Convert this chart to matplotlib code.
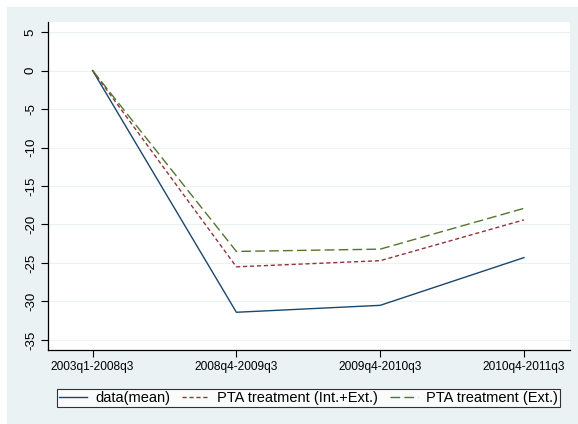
import matplotlib
matplotlib.use("Agg")
import matplotlib.pyplot as plt
from matplotlib.patches import Rectangle

periods = ["2003q1-2008q3", "2008q4-2009q3", "2009q4-2010q3", "2010q4-2011q3"]
data_mean = [0, -31.4, -30.5, -24.3]
pta_int_ext = [0, -25.5, -24.7, -19.4]
pta_ext = [0, -23.5, -23.2, -17.9]

plt.rcParams['font.family'] = ['Liberation Sans', 'DejaVu Sans']

W, H = 578, 424
fig = plt.figure(figsize=(W / 100, H / 100), dpi=100, facecolor="white")
fig.patches.append(Rectangle((7 / W, 0), 1 - 7 / W, 1 - 7 / H, transform=fig.transFigure,
                             facecolor="#eaf2f3", edgecolor="none", zorder=-10))

ax = fig.add_axes([48 / W, (H - 350) / H, (570 - 48) / W, (350 - 22) / H])
ax.set_facecolor("white")

x = list(range(len(periods)))
ax.plot(x, data_mean, color="#1a476f", lw=1.0, label="data(mean)")
ax.plot(x, pta_int_ext, color="#90353b", lw=1.0, dashes=(3, 2), label="PTA treatment (Int.+Ext.)")
ax.plot(x, pta_ext, color="#55752f", lw=1.0, dashes=(7, 3), label="PTA treatment (Ext.)")

ax.set_xlim(-0.31, 3.32)
ax.set_ylim(-36.3, 6.3)
ax.set_xticks(x)
ax.set_xticklabels(periods, fontsize=8.6)
yt = list(range(-35, 10, 5))
ax.set_yticks(yt)
ax.set_yticklabels([str(v) for v in yt], fontsize=9.5, rotation=90, va="center")
for v in yt:
    ax.axhline(v, color="#eaf2f3", lw=0.8, zorder=0)

for s in ["top", "right"]:
    ax.spines[s].set_visible(False)
for s in ["left", "bottom"]:
    ax.spines[s].set_linewidth(0.9)
ax.tick_params(direction="out", length=5, width=0.8, pad=3)

leg = ax.legend(loc="center", bbox_to_anchor=((53 + 564) / 2 / W, (H - 398) / H),
                bbox_transform=fig.transFigure, ncol=3, fontsize=10.5,
                frameon=True, fancybox=False, borderaxespad=0, handlelength=1.9,
                columnspacing=0.8, handletextpad=0.55, borderpad=0.15)
leg.get_frame().set_edgecolor("black")
leg.get_frame().set_linewidth(0.8)

fig.savefig("out.png", dpi=100, facecolor=fig.get_facecolor())
